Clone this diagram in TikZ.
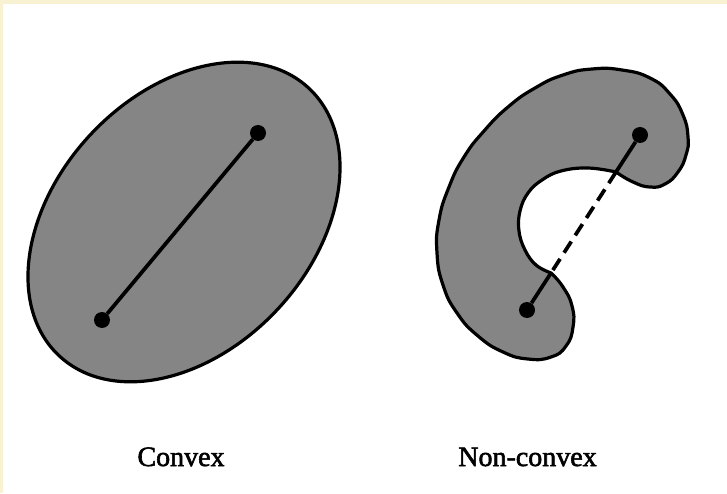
\documentclass[tikz,border=0pt]{standalone}
\usepackage{fontspec}
\setmainfont{Liberation Serif}
\newfontfamily\capfont[FakeBold=2]{Liberation Serif}
\definecolor{scanedge}{RGB}{248,241,210}
\begin{document}
\begin{tikzpicture}[x=0.75pt, y=0.75pt,
    blob/.style={fill=black!48, draw=black, line width=2.4pt},
    dot/.style={circle, fill=black, inner sep=0pt, minimum size=12pt},
    chord/.style={line width=2.8pt},
    caption/.style={font=\capfont\fontsize{21}{25}\selectfont, anchor=base}]
\useasboundingbox (0,0) rectangle (727,493);
\fill[scanedge] (0,488.5) rectangle (727,493);
\fill[scanedge] (0,0) rectangle (3,493);
% convex set
\filldraw[blob, rotate around={47:(184,271)}] (184,271) ellipse [x radius=183, y radius=128];
\node[dot] (p) at (258,360) {};
\node[dot] (q) at (102,173) {};
\draw[chord] (p) -- (q);
% non-convex set
\coordinate (c1) at (616,321);
\coordinate (c2) at (551,220);
\filldraw[blob] plot[smooth, tension=0.85] coordinates {(616,321) (633,311) (650,306) (665,309)
    (678,321) (686,338) (688,356) (683,378) (670,399) (650,415) (622,423) (592,424) (563,418)
    (535,405) (508,386) (484,362) (464,336) (449,306) (439,273) (437,240) (443,208) (457,180)
    (478,157) (503,141) (528,134) (551,136) (566,147) (573,166) (572,187) (563,206) (551,220)}
  -- plot[smooth, tension=0.7] coordinates {(551,220) (536,228) (525,243) (519,262) (520,282)
    (528,300) (542,313) (561,322) (588,325) (616,321)} -- cycle;
\node[dot] (r) at (640,358) {};
\node[dot] (s) at (527,183) {};
\draw[chord] (r) -- (c1);
\draw[chord, dash pattern=on 10pt off 5.5pt] (c1) -- (c2);
\draw[chord] (c2) -- (s);
% labels
\node[caption] (convex) at (181,27) {Convex};
\node[caption] (nonconvex) at (527.5,27) {Non-convex};
\end{tikzpicture}
\end{document}
